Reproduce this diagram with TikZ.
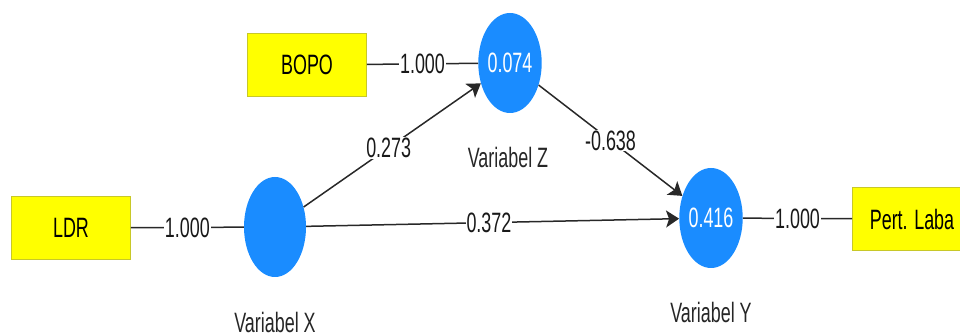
\documentclass[tikz,border=0pt]{standalone}
\usepackage{fontspec}
\setmainfont[FakeStretch=0.64]{Liberation Sans}
\usetikzlibrary{shapes.geometric,arrows.meta}
\definecolor{lvblue}{RGB}{26,140,255}
\definecolor{indyellow}{RGB}{255,255,0}
\definecolor{indborder}{RGB}{200,200,40}
\definecolor{edgegray}{RGB}{40,40,40}
\tikzset{
  latent/.style={ellipse,fill=lvblue,draw=none,minimum width=62pt,minimum height=100pt,inner sep=0pt,text=white,font=\fontsize{28}{30}\selectfont},
  indicator/.style={rectangle,fill=indyellow,draw=indborder,line width=0.8pt,minimum width=119pt,minimum height=63pt,inner sep=0pt,text=black,font=\fontsize{28}{30}\selectfont},
  caption/.style={text=black!85,font=\fontsize{28}{30}\selectfont,inner sep=0pt},
  link/.style={draw=edgegray,line width=1.5pt},
  path/.style={draw=edgegray,line width=1.5pt,-{Stealth[length=13pt,width=17pt,inset=3pt]}},
  wlabel/.style={fill=white,text=black!90,font=\fontsize{28}{30}\selectfont,inner sep=1pt}
}
\begin{document}
\begin{tikzpicture}[x=1pt,y=-1pt]
\useasboundingbox (0,0) rectangle (960,336);
\clip (0,0) rectangle (960,336);
\node[latent] (Z) at (510,63) {0.074};
\node[latent] (X) at (275,227) {};
\node[latent] (Y) at (711,218) {0.416};
\node[indicator] (BOPO) at (307,65) {BOPO};
\node[indicator] (LDR) at (71,228) {LDR};
\node[indicator] (PL) at (912,219) {Pert. Laba};
\node[caption] (cZ) at (508,157) {Variabel Z};
\node[caption] (cX) at (275,322) {Variabel X};
\node[caption] (cY) at (711,312) {Variabel Y};
\path[link] (BOPO) -- node[wlabel] {1.000} (Z);
\path[link] (LDR) -- node[wlabel] {1.000} (X);
\path[link] (Y) -- node[wlabel] {1.000} (PL);
\path[path] (X) -- node[wlabel,pos=0.48] {0.273} (Z);
\path[path] (Z) -- node[wlabel] {-0.638} (Y);
\path[path] (X) -- node[wlabel,pos=0.49] {0.372} (Y);
\end{tikzpicture}
\end{document}
